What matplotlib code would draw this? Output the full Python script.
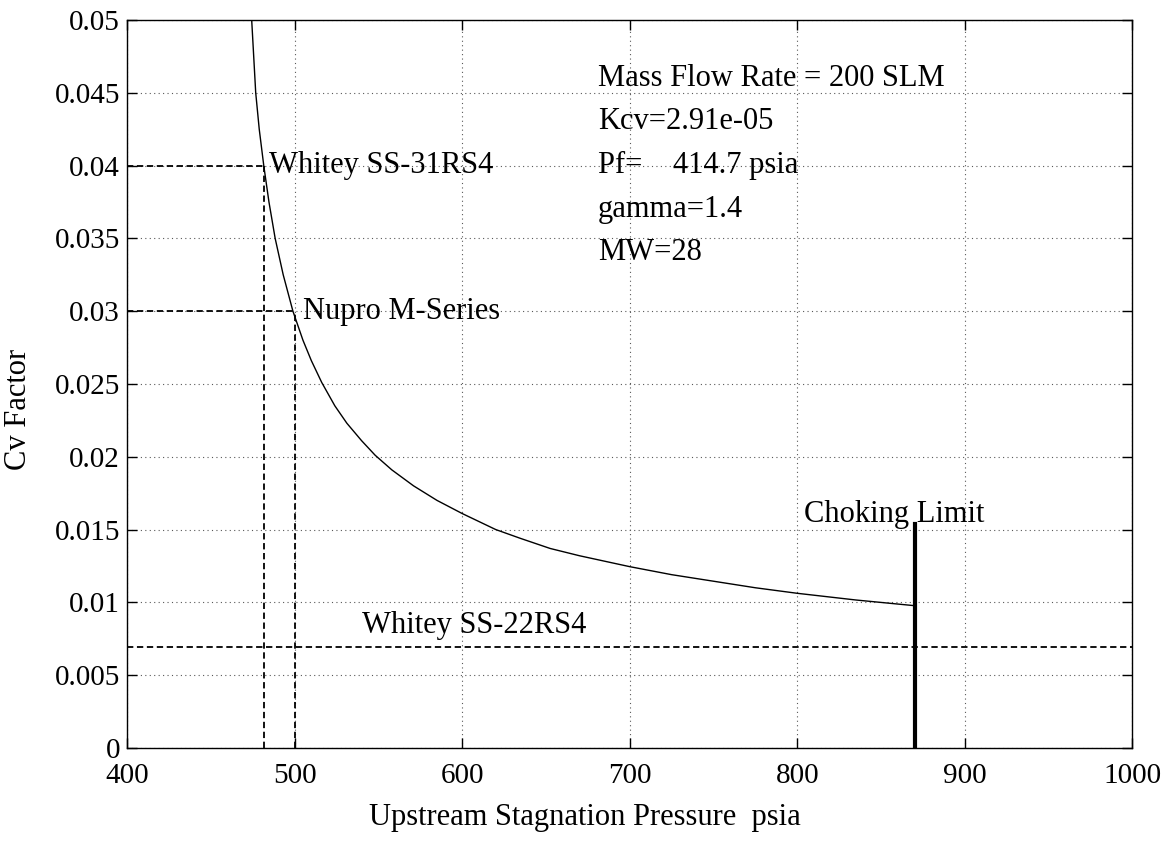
import matplotlib
matplotlib.use("Agg")
import matplotlib.pyplot as plt

plt.rcParams['font.family'] = ['Liberation Serif', 'DejaVu Serif']

# Required Cv vs. upstream stagnation pressure (psia)
pressure = [474.4, 476.8, 478.9, 481.6, 484.7, 488.4, 493.2, 499.0, 505.0,
            510.0, 516.2, 524.0, 531.2, 540.0, 548.1, 558.0, 571.0, 585.0,
            600.0, 610.0, 620.0, 634.6, 652.5, 670.0, 700.0, 725.0, 750.0,
            775.0, 800.0, 835.0, 870.0]
cv_factor = [0.0500, 0.0450, 0.0425, 0.0400, 0.0375, 0.0350, 0.0325, 0.0300, 0.0280,
             0.0266, 0.0251, 0.0235, 0.0223, 0.0211, 0.0201, 0.0191, 0.0180, 0.0170,
             0.0161, 0.01555, 0.0150, 0.0144, 0.0137, 0.0132, 0.01245, 0.0119, 0.01145,
             0.0110, 0.01062, 0.01016, 0.00977]

# Valve ratings
valve_names = ['Whitey SS-31RS4', 'Nupro M-Series']
valve_cv = [0.040, 0.030]
valve_p = [481.6, 500.0]
valve_label_xy = [(484.5, 0.040), (505.0, 0.030)]

ss22_name = 'Whitey SS-22RS4'
ss22_cv = 0.0069
ss22_label_xy = (540.0, 0.0084)

choke_p = 870.0
choke_cv_top = 0.0154
choke_label_xy = (804.0, 0.0160)

info_lines = ['Mass Flow Rate = 200 SLM', 'Kcv=2.91e-05', 'Pf=    414.7 psia',
              'gamma=1.4', 'MW=28']
info_x = 681.0
info_y = [0.046, 0.043, 0.040, 0.037, 0.034]

x_ticks = [400, 500, 600, 700, 800, 900, 1000]
y_ticks = [0, 0.005, 0.01, 0.015, 0.02, 0.025, 0.03, 0.035, 0.04, 0.045, 0.05]
y_ticklabels = ['0', '0.005', '0.01', '0.015', '0.02', '0.025', '0.03',
                '0.035', '0.04', '0.045', '0.05']

fig = plt.figure(figsize=(11.76, 8.48), dpi=100)
ax = fig.add_axes([0.108, 0.118, 0.855, 0.8585])

ax.plot(pressure, cv_factor, color='black', lw=1.0)

dash = (0, (3.5, 2.0))
for name, cv, p, (tx, ty) in zip(valve_names, valve_cv, valve_p, valve_label_xy):
    ax.plot([400, p], [cv, cv], color='black', lw=1.3, linestyle=dash)
    ax.plot([p, p], [0, cv], color='black', lw=1.3, linestyle=dash)
    ax.text(tx, ty, name, fontsize=22, ha='left', va='center')

ax.plot([400, 1000], [ss22_cv, ss22_cv], color='black', lw=1.3, linestyle=dash)
ax.text(*ss22_label_xy, ss22_name, fontsize=22, ha='left', va='center')

ax.plot([choke_p, choke_p], [0, choke_cv_top], color='black', lw=3.0)
ax.text(*choke_label_xy, 'Choking Limit', fontsize=22, ha='left', va='center')

for line, y in zip(info_lines, info_y):
    ax.text(info_x, y, line, fontsize=22, ha='left', va='center')

ax.set_xlim(400, 1000)
ax.set_ylim(0, 0.05)
ax.set_xticks(x_ticks)
ax.set_yticks(y_ticks)
ax.set_yticklabels(y_ticklabels)
ax.grid(True, color='0.35', linestyle=(0, (1, 3)), lw=0.8)
ax.tick_params(direction='in', length=7, width=1.0, top=True, right=True,
               labelsize=21)
ax.tick_params(axis='y', pad=5)
ax.tick_params(axis='x', pad=11)
for s in ax.spines.values():
    s.set_linewidth(1.0)

ax.set_xlabel('Upstream Stagnation Pressure  psia', fontsize=22, va='center')
ax.xaxis.set_label_coords(0.455, -0.096)
ax.set_ylabel('Cv Factor', fontsize=22, va='center')
ax.yaxis.set_label_coords(-0.108, 0.465)

fig.savefig('out.png', dpi=100, facecolor='white')
